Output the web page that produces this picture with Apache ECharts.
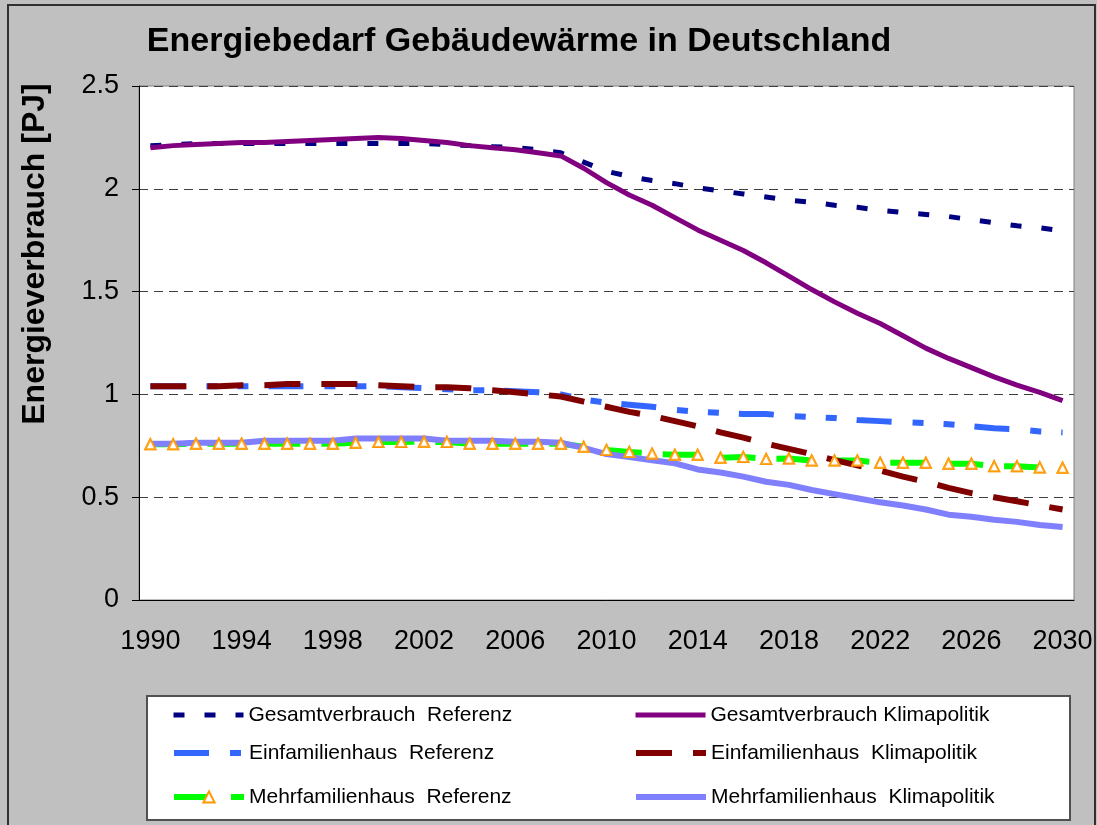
<!DOCTYPE html>
<html>
<head>
<meta charset="utf-8">
<script src="https://cdn.jsdelivr.net/npm/echarts@6/dist/echarts.min.js"></script>
<style>
  html, body { margin: 0; padding: 0; background: #c0c0c0; }
  #chartBox { width: 1097px; height: 825px; }
</style>
</head>
<body>
<div id="chartBox"></div>
<script>
// Jahre 1990..2030
const years = [
  '1990','1991','1992','1993','1994','1995','1996','1997','1998','1999',
  '2000','2001','2002','2003','2004','2005','2006','2007','2008','2009',
  '2010','2011','2012','2013','2014','2015','2016','2017','2018','2019',
  '2020','2021','2022','2023','2024','2025','2026','2027','2028','2029','2030'
];
const yTicks = [0, 0.5, 1, 1.5, 2, 2.5];

const gesamtReferenz = [
  2.21, 2.215, 2.22, 2.22, 2.22, 2.22, 2.22, 2.22, 2.22, 2.22,
  2.22, 2.22, 2.22, 2.215, 2.21, 2.205, 2.2, 2.19, 2.175, 2.13,
  2.085, 2.06, 2.04, 2.025, 2.005, 1.99, 1.975, 1.96, 1.945, 1.935,
  1.92, 1.91, 1.895, 1.885, 1.875, 1.865, 1.85, 1.835, 1.82, 1.81, 1.795
];
const gesamtKlima = [
  2.2, 2.21, 2.215, 2.22, 2.225, 2.225, 2.23, 2.235, 2.24, 2.245,
  2.25, 2.245, 2.235, 2.225, 2.21, 2.2, 2.19, 2.175, 2.16, 2.1,
  2.03, 1.97, 1.92, 1.86, 1.8, 1.75, 1.7, 1.64, 1.575, 1.51,
  1.45, 1.395, 1.345, 1.285, 1.225, 1.175, 1.13, 1.085, 1.045, 1.01, 0.97
];
const einReferenz = [
  1.04, 1.04, 1.04, 1.04, 1.04, 1.04, 1.04, 1.04, 1.04, 1.04,
  1.04, 1.035, 1.03, 1.025, 1.02, 1.02, 1.015, 1.01, 1.0, 0.975,
  0.96, 0.95, 0.94, 0.925, 0.915, 0.91, 0.905, 0.905, 0.895, 0.89,
  0.885, 0.875, 0.87, 0.865, 0.86, 0.855, 0.845, 0.835, 0.83, 0.82, 0.815
];
const einKlima = [
  1.04, 1.04, 1.04, 1.04, 1.045, 1.045, 1.05, 1.05, 1.05, 1.05,
  1.045, 1.04, 1.035, 1.035, 1.03, 1.02, 1.01, 1.0, 0.99, 0.965,
  0.94, 0.915, 0.895, 0.87, 0.845, 0.815, 0.79, 0.76, 0.735, 0.71,
  0.68, 0.655, 0.63, 0.6, 0.575, 0.545, 0.52, 0.5, 0.48, 0.46, 0.44
];
const mehrReferenz = [
  0.757, 0.757, 0.76, 0.76, 0.76, 0.76, 0.76, 0.76, 0.76, 0.765,
  0.768, 0.768, 0.77, 0.768, 0.76, 0.76, 0.76, 0.76, 0.76, 0.745,
  0.73, 0.72, 0.712, 0.706, 0.706, 0.692, 0.695, 0.686, 0.688, 0.678,
  0.678, 0.678, 0.668, 0.668, 0.668, 0.663, 0.663, 0.65, 0.65, 0.645, 0.643
];
const mehrKlima = [
  0.76, 0.76, 0.765, 0.765, 0.765, 0.775, 0.775, 0.775, 0.775, 0.785,
  0.785, 0.785, 0.785, 0.775, 0.775, 0.775, 0.77, 0.77, 0.765, 0.74,
  0.71, 0.695, 0.68, 0.665, 0.635, 0.62, 0.6, 0.575, 0.56, 0.535,
  0.515, 0.495, 0.475, 0.46, 0.44, 0.415, 0.405, 0.39, 0.38, 0.365, 0.355
];

// Legendentexte (Abstände wie im Original)
const nameGesRef = 'Gesamtverbrauch  Referenz';
const nameEinRef = 'Einfamilienhaus  Referenz';
const nameMehrRef = 'Mehrfamilienhaus  Referenz';
const nameGesKli = 'Gesamtverbrauch Klimapolitik';
const nameEinKli = 'Einfamilienhaus  Klimapolitik';
const nameMehrKli = 'Mehrfamilienhaus  Klimapolitik';

const chart = echarts.init(document.getElementById('chartBox'));

const font = 'Arial, "Liberation Sans", sans-serif';

// eine Legende je Eintrag, damit die Positionen stimmen
const legendPos = [
  { name: nameGesRef, left: 171, top: 704, mark: false },
  { name: nameEinRef, left: 171, top: 742, mark: false },
  { name: nameMehrRef, left: 171, top: 786, mark: true },
  { name: nameGesKli, left: 633, top: 704, mark: false },
  { name: nameEinKli, left: 633, top: 742, mark: false },
  { name: nameMehrKli, left: 633, top: 786, mark: false }
];

const option = {
  animation: false,
  backgroundColor: '#c0c0c0',
  title: {
    text: 'Energiebedarf Gebäudewärme in Deutschland',
    left: 514,
    top: 20,
    textAlign: 'center',
    textStyle: { fontFamily: font, fontSize: 34, fontWeight: 'bold', color: '#000' }
  },
  graphic: [
    {
      type: 'rect',
      z: -1,
      shape: { x: 8, y: 5, width: 1087, height: 840 },
      style: { fill: 'none', stroke: '#303030', lineWidth: 2 }
    },
    {
      type: 'rect',
      z: 0,
      shape: { x: 147, y: 696, width: 923, height: 124 },
      style: { fill: '#fff', stroke: '#505050', lineWidth: 2 }
    },
    {
      type: 'text',
      x: 35,
      y: 254,
      rotation: Math.PI / 2,
      style: {
        text: 'Energieverbrauch [PJ]',
        fontFamily: font,
        fontSize: 32,
        fontWeight: 'bold',
        fill: '#000',
        align: 'center',
        verticalAlign: 'middle'
      }
    }
  ],
  legend: legendPos.map(p => ({
    data: [p.name],
    left: p.left,
    top: p.top,
    padding: 0,
    itemWidth: 70,
    itemHeight: 14,
    itemGap: 0,
    selectedMode: false,
    lineStyle: { width: 'inherit' },
    itemStyle: p.mark ? {} : { opacity: 0 },
    textStyle: { fontFamily: font, fontSize: 21, color: '#000', lineHeight: 22 }
  })),
  grid: {
    left: 139,
    right: 23,
    top: 86,
    bottom: 225,
    show: true,
    backgroundColor: '#fff',
    borderColor: '#808080',
    borderWidth: 1
  },
  xAxis: {
    type: 'category',
    data: years,
    boundaryGap: true,
    axisLine: { lineStyle: { color: '#000', width: 1 } },
    axisTick: { interval: 0, length: 7, lineStyle: { color: '#000' } },
    axisLabel: { interval: 3, margin: 28, fontFamily: font, fontSize: 27, color: '#000' },
    splitLine: { show: false }
  },
  yAxis: {
    type: 'value',
    min: yTicks[0],
    max: yTicks[yTicks.length - 1],
    interval: 0.5,
    axisLine: { show: true, lineStyle: { color: '#000', width: 1 } },
    axisTick: { show: true, length: 7, lineStyle: { color: '#000' } },
    axisLabel: { margin: 20, fontFamily: font, fontSize: 27, color: '#000' },
    splitLine: { lineStyle: { color: '#404040', type: [9, 6], width: 1 } }
  },
  series: [
    {
      name: nameGesRef,
      type: 'line',
      data: gesamtReferenz,
      symbol: 'none',
      lineStyle: { color: '#000080', width: 5, type: [11, 20], cap: 'butt' },
      itemStyle: { color: '#000080' }
    },
    {
      name: nameEinRef,
      type: 'line',
      data: einReferenz,
      symbol: 'none',
      lineStyle: { color: '#3366ff', width: 6, type: [35, 21, 11, 20, 11, 20], cap: 'butt' },
      itemStyle: { color: '#3366ff' }
    },
    {
      name: nameMehrRef,
      type: 'line',
      data: mehrReferenz,
      symbol: 'emptyTriangle',
      symbolSize: 10,
      lineStyle: { color: '#00ff00', width: 6, type: [36, 21], cap: 'butt' },
      itemStyle: { color: '#ff9900', borderColor: '#ff9900', borderWidth: 2 }
    },
    {
      name: nameGesKli,
      type: 'line',
      data: gesamtKlima,
      symbol: 'none',
      lineStyle: { color: '#800080', width: 5 },
      itemStyle: { color: '#800080' }
    },
    {
      name: nameEinKli,
      type: 'line',
      data: einKlima,
      symbol: 'none',
      lineStyle: { color: '#800000', width: 6, type: [36, 21], cap: 'butt' },
      itemStyle: { color: '#800000' }
    },
    {
      name: nameMehrKli,
      type: 'line',
      data: mehrKlima,
      symbol: 'none',
      lineStyle: { color: '#8080ff', width: 6 },
      itemStyle: { color: '#8080ff' }
    },
    {
      // Dreiecke über allen Linien
      name: nameMehrRef,
      type: 'scatter',
      data: mehrReferenz,
      symbol: 'emptyTriangle',
      symbolSize: 10,
      z: 5,
      itemStyle: { color: '#ff9900', borderColor: '#ff9900', borderWidth: 2 }
    }
  ]
};

chart.setOption(option);
</script>
</body>
</html>
